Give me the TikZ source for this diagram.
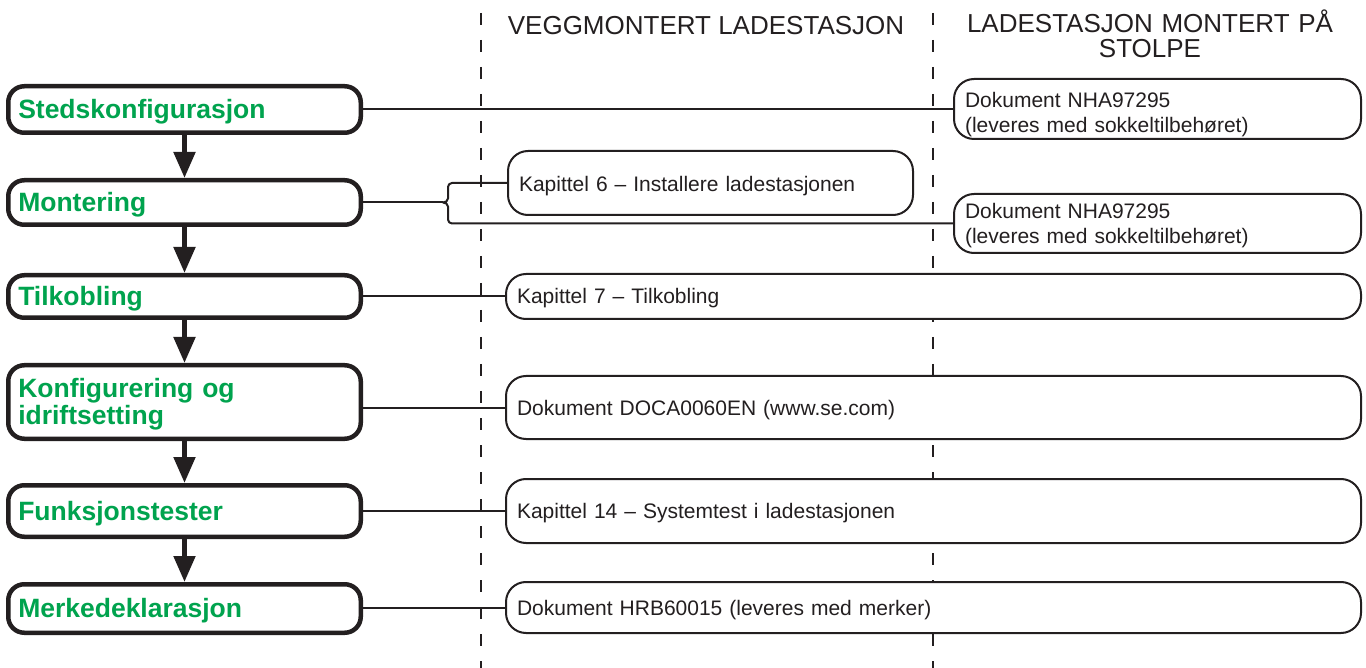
\documentclass[tikz,border=0pt]{standalone}
\usepackage{fontspec}
\setmainfont{Liberation Sans}
\usetikzlibrary{arrows.meta}
\definecolor{lc}{RGB}{35,31,32}
\definecolor{sg}{RGB}{0,163,78}
\begin{document}
\begin{tikzpicture}[x=1pt,y=-1pt,
  lbox/.style={draw=lc, line width=4.5pt, rounded corners=16pt, fill=white, anchor=west,
    minimum width=352.5pt, text width=332.5pt, inner xsep=10pt, inner ysep=0pt, align=left,
    text=sg, font=\fontsize{26.5}{26}\selectfont\bfseries, text height=20pt, text depth=2pt},
  rbox/.style={draw=lc, line width=2pt, rounded corners=20pt, fill=white, anchor=west,
    inner xsep=11pt, inner ysep=0pt, align=left, text=lc,
    font=\fontsize{21}{25}\selectfont, text height=17pt, text depth=2pt},
  narrowbox/.style={rbox, minimum width=407pt, text width=385pt},
  widebox/.style={rbox, minimum width=855pt, text width=833pt},
  conn/.style={draw=lc, line width=2pt},
  flow/.style={draw=lc, line width=5pt, -{Triangle[width=21pt,length=26pt]}},
  colline/.style={draw=lc, line width=2.8pt, dash pattern=on 12pt off 15pt},
  head/.style={text=lc, font=\fontsize{26}{25}\selectfont, align=center, anchor=base}]
\useasboundingbox (0,0) rectangle (1366,668);

% column separators
\coordinate (c1t) at (481,13);
\coordinate (c1b) at (481,668);
\coordinate (c2t) at (933,13);
\coordinate (c2b) at (933,668);
\draw[colline] (c1t) -- (c1b);
\draw[colline] (c2t) -- (c2b);

% headers
\node[head] (h1) at (706,35) {VEGGMONTERT LADESTASJON};
\node[head, text width=420pt] (h2) at (1150,33) {LADESTASJON MONTERT PÅ\\STOLPE};

% left process boxes
\node[lbox, minimum height=46.5pt] (sted) at (6,109.5) {Stedskonfigurasjon};
\node[lbox, minimum height=44.5pt] (mont) at (6,202.5) {Montering};
\node[lbox, minimum height=42.5pt] (tilk) at (6,296.5) {Tilkobling};
\node[lbox, minimum height=73.5pt, text height=13pt, text depth=21pt] (konf) at (6,402) {Konfigurering og\\idriftsetting};
\node[lbox, minimum height=51.5pt] (funk) at (6,511) {Funksjonstester};
\node[lbox, minimum height=48.5pt] (merk) at (6,608.5) {Merkedeklarasjon};

% right document boxes
\node[narrowbox, minimum height=60pt, text height=12pt, text depth=14pt] (nha1) at (953,109) {Dokument NHA97295\\(leveres med sokkeltilbehøret)};
\node[rbox, minimum width=405pt, text width=383pt, minimum height=64pt, text height=20pt, text depth=2pt] (kap6) at (507,183) {Kapittel 6 – Installere ladestasjonen};
\node[narrowbox, minimum height=59pt, text height=10pt, text depth=19pt] (nha2) at (953,223.5) {Dokument NHA97295\\(leveres med sokkeltilbehøret)};
\node[widebox, minimum height=45pt] (kap7) at (505,296.5) {Kapittel 7 – Tilkobling};
\node[widebox, minimum height=63pt] (doca) at (505,407.5) {Dokument DOCA0060EN (www.se.com)};
\node[widebox, minimum height=64pt] (kap14) at (505,511) {Kapittel 14 – Systemtest i ladestasjonen};
\node[widebox, minimum height=51pt] (hrb) at (505,607.5) {Dokument HRB60015 (leveres med merker)};

% connectors
\draw[conn] (sted.east |- nha1.west) -- (nha1.west);
\draw[conn] (tilk.east |- kap7.west) -- (kap7.west);
\draw[conn] (konf.east |- doca.west) -- (doca.west);
\draw[conn] (funk.east |- kap14.west) -- (kap14.west);
\draw[conn] (merk.east |- hrb.west) -- (hrb.west);

% brace for Montering
\coordinate (brtip) at ([xshift=80pt]mont.east);
\coordinate (brx) at ([xshift=5pt]brtip);
\draw[conn] (mont.east) -- (brtip);
\draw[conn, line join=round] (kap6.west) -- ([xshift=4pt]kap6.west -| brx)
  to[out=180,in=90] ([yshift=-4pt]kap6.west -| brx)
  -- ([yshift=4pt]brx) to[out=-90,in=0] (brtip)
  to[out=0,in=90] ([yshift=-4pt]brx)
  -- ([yshift=4pt]nha2.west -| brx)
  to[out=-90,in=180] ([xshift=4pt]nha2.west -| brx) -- (nha2.west);

% flow arrows
\draw[flow] (sted.south) -- (mont.north);
\draw[flow] (mont.south) -- (tilk.north);
\draw[flow] (tilk.south) -- (konf.north);
\draw[flow] (konf.south) -- (funk.north);
\draw[flow] (funk.south) -- (merk.north);
\end{tikzpicture}
\end{document}
